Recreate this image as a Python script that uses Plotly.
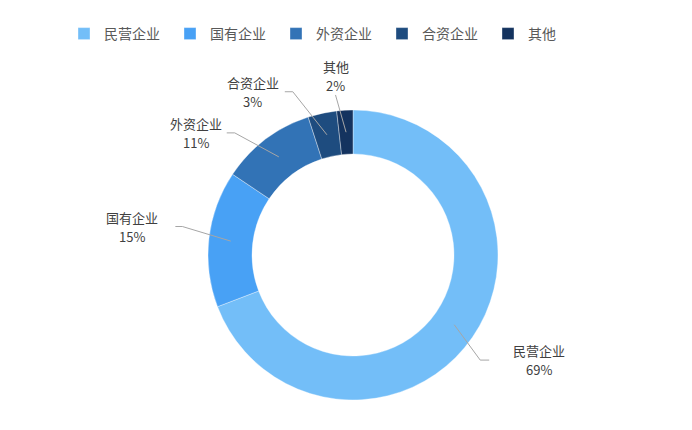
import math
import plotly.graph_objects as go

# data (share of enterprises, %)
categories = ["民营企业", "国有企业", "外资企业", "合资企业", "其他"]
shares = [69.2, 15.2, 10.6, 3.2, 1.8]
colors = ["#73bef8", "#48a1f5", "#3273b6", "#1e4c7f", "#14335f"]

W, H = 692, 430
CX, CY = 353, 255          # donut centre in px
R_OUT, R_IN = 145, 101
LINE_H = 19                # label line height

# label-line layout (overlap avoidance, like echarts): elbow radius, angle nudge, tail length
elbow_r = [165, 173, 170, 174, 161]
elbow_nudge = [5, 3, -7, -8, -3]
tail_len = [9, 7, 8, 8, 0]
label_gap = [24, 17, 5, 6, 0]


def px(x, y):
    return x / W, 1 - y / H


fig = go.Figure(go.Pie(
    labels=categories,
    values=shares,
    hole=R_IN / R_OUT,
    sort=False,
    direction="clockwise",
    marker=dict(colors=colors, line=dict(color="rgba(255,255,255,0.6)", width=0.6)),
    textinfo="none",
    hoverinfo="label+percent",
    domain=dict(x=[(CX - R_OUT) / W, (CX + R_OUT) / W],
                y=[1 - (CY + R_OUT) / H, 1 - (CY - R_OUT) / H]),
))

total = sum(shares)
cum = 0
shapes, annotations = [], []
for i, (name, v) in enumerate(zip(categories, shares)):
    mid = (cum + v / 2) / total * 360
    cum += v
    a0 = math.radians(mid)
    x0, y0 = CX + (R_OUT + R_IN) / 2 * math.sin(a0), CY - (R_OUT + R_IN) / 2 * math.cos(a0)
    a1 = math.radians(mid + elbow_nudge[i])
    x1, y1 = CX + elbow_r[i] * math.sin(a1), CY - elbow_r[i] * math.cos(a1)
    side = 1 if x1 >= CX else -1
    x2 = x1 + side * tail_len[i]
    p0, p1, p2 = px(x0, y0), px(x1, y1), px(x2, y1)
    shapes.append(dict(
        type="path", xref="paper", yref="paper",
        path=f"M{p0[0]},{p0[1]} L{p1[0]},{p1[1]} L{p2[0]},{p2[1]}",
        line=dict(color="#a6a6a6", width=1),
    ))
    pct = f"{round(v / total * 100)}%"
    if tail_len[i] == 0:
        # label sits straight above the end of the line
        lx = x2
        ys = [y1 - 9 - LINE_H, y1 - 9]
    else:
        # two centred lines beside the tail
        block_w = 13 * len(name)
        lx = x2 + side * (label_gap[i] + block_w / 2)
        ys = [y1 - LINE_H / 2, y1 + LINE_H / 2]
    for txt, yy in zip([name, pct], ys):
        ax, ay = px(lx, yy)
        annotations.append(dict(x=ax, y=ay, xref="paper", yref="paper", text=txt,
                                showarrow=False, xanchor="center", yanchor="middle",
                                borderpad=0))

fig.update_layout(
    width=W, height=H,
    margin=dict(l=0, r=0, t=0, b=0),
    paper_bgcolor="white",
    plot_bgcolor="white",
    font=dict(family="Noto Sans CJK SC, Microsoft YaHei, sans-serif", size=13, color="#404040"),
    shapes=shapes,
    annotations=annotations,
    showlegend=True,
    legend=dict(
        orientation="h",
        x=(84 - 20) / W, xanchor="left",
        y=1 - 18 / H, yanchor="top",
        entrywidth=61, entrywidthmode="pixels",
        font=dict(size=14, color="#595959"),
        traceorder="normal",
    ),
)

# page body has an 8px default margin; drop it so the figure fills the window
fig.write_html("out.html", config={"displayModeBar": False},
               post_script="document.body.style.margin='0';")
